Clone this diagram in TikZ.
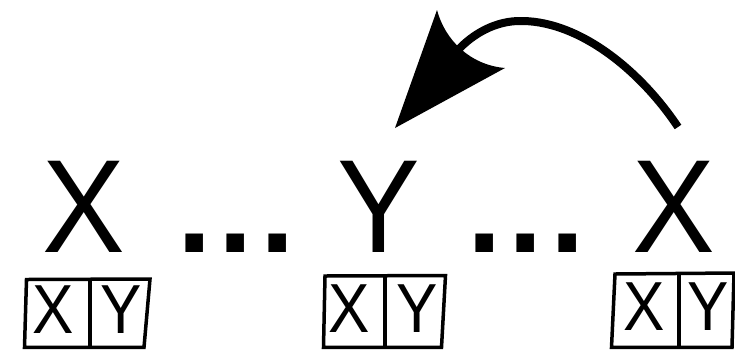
\documentclass[tikz,border=0pt]{standalone}
\usepackage{fontspec}
\setmainfont{Liberation Sans}
\begin{document}
\begin{tikzpicture}[x=1pt,y=-1pt,
  big/.style={inner sep=0pt, anchor=base, font=\fontsize{124}{124}\selectfont},
  dotmark/.style={inner sep=0pt, anchor=base, font=\fontsize{124}{124}\selectfont\bfseries},
  small/.style={inner sep=0pt, anchor=base, font=\fontsize{62}{62}\selectfont},
  boxline/.style={line width=3.5pt, line join=miter},
  divline/.style={line width=4pt},
  arrowline/.style={line width=8pt}]
\useasboundingbox (0,0) rectangle (735,349);

% big letters
\node[big] (x1) at (84,252) {\scalebox{1}[1.07]{X}};
\node[big] (y1) at (378.5,252) {\scalebox{1}[1.07]{Y}};
\node[big] (x2) at (674,252) {\scalebox{1}[1.07]{X}};

% dots
\node[dotmark] (d1) at (195,252) {.};
\node[dotmark] (d2) at (236,252) {.};
\node[dotmark] (d3) at (278,252) {.};
\node[dotmark] (d4) at (485,252) {.};
\node[dotmark] (d5) at (526,252) {.};
\node[dotmark] (d6) at (568,252) {.};

% boxes
\draw[boxline] (26.5,279.5) -- (150,279) -- (144,347.3) -- (24.5,347.3) -- cycle;
\draw[divline] (89.5,279) -- (89.5,347.3);
\node[small] (bx1) at (53,333) {\scalebox{1}[1.12]{X}};
\node[small] (by1) at (121,333) {\scalebox{1}[1.12]{Y}};

\draw[boxline] (325,276) -- (445.5,275.5) -- (441.5,347.3) -- (323.5,347.3) -- cycle;
\draw[divline] (385,276) -- (385,347.3);
\node[small] (bx2) at (349,332) {\scalebox{1}[1.12]{X}};
\node[small] (by2) at (417,332) {\scalebox{1}[1.12]{Y}};

\draw[boxline] (615,274) -- (734,273) -- (732,347.3) -- (611.5,347.3) -- cycle;
\draw[divline] (678.5,274) -- (678.5,347.3);
\node[small] (bx3) at (644,330) {\scalebox{1}[1.12]{X}};
\node[small] (by3) at (708,330) {\scalebox{1}[1.12]{Y}};

% arrow
\coordinate (as) at (678,127);
\coordinate (pk) at (523,21);
\coordinate (ae) at (458,50);
\coordinate (tip) at (395,128);
\coordinate (b1) at (437,10);
\coordinate (b2) at (505,68);
\draw[arrowline] (as) .. controls (640,70) and (580,22) .. (pk)
  .. controls (495,20) and (472,35) .. (ae);
\fill (tip) -- (b1) .. controls (445,40) and (470,65) .. (b2) -- cycle;
\end{tikzpicture}
\end{document}
